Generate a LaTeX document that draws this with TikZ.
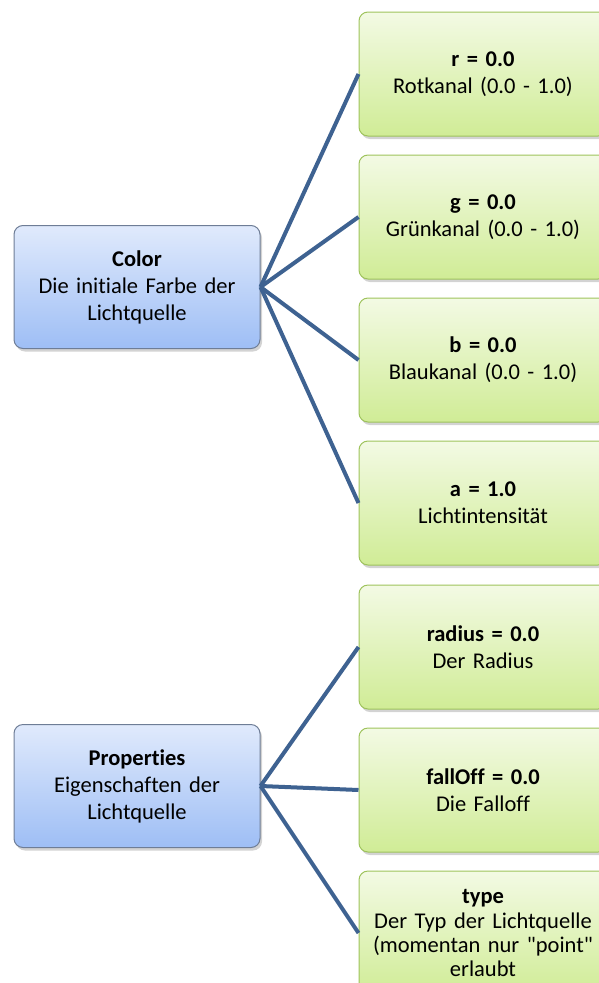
\documentclass[tikz,border=0pt]{standalone}
\usepackage{fontspec}
\setmainfont{Carlito}[Ligatures=NoCommon]
\usepackage{tikz}
\definecolor{linkblue}{RGB}{62,98,145}
\definecolor{parentedge}{RGB}{110,125,150}
\definecolor{parenttop}{RGB}{224,234,252}
\definecolor{parentbot}{RGB}{158,190,245}
\definecolor{childedge}{RGB}{158,195,92}
\definecolor{childtop}{RGB}{243,250,228}
\definecolor{childbot}{RGB}{208,236,150}
\usetikzlibrary{positioning, shadows}

\begin{document}
\begin{tikzpicture}[
    x=1pt, y=-1pt,
    node distance=18pt,
    parent/.style={rectangle, draw=parentedge, line width=1pt,
                   top color=parenttop, bottom color=parentbot,
                   minimum width=246pt, minimum height=123pt, text width=236pt,
                   align=center, rounded corners=9pt, inner sep=0pt,
                   font=\fontsize{22.5}{27}\selectfont,
                   drop shadow={shadow xshift=2pt, shadow yshift=-3pt, opacity=0.35}},
    child/.style={rectangle, draw=childedge, line width=1pt,
                  top color=childtop, bottom color=childbot,
                  minimum width=248pt, minimum height=124pt, text width=244pt,
                  align=center, rounded corners=9pt, inner sep=0pt,
                  font=\fontsize{22.5}{27}\selectfont,
                  drop shadow={shadow xshift=2pt, shadow yshift=-3pt, opacity=0.35}},
    link/.style={draw=linkblue, line width=4pt}
]
    \useasboundingbox (0,0) rectangle (599,983);

    % colour channels
    \node[child] (r) at (483,74) {\textbf{r = 0.0}\\Rotkanal (0.0 - 1.0)};
    \node[child, below=of r] (g) {\textbf{g = 0.0}\\Grünkanal (0.0 - 1.0)};
    \node[child, below=of g] (b) {\textbf{b = 0.0}\\Blaukanal (0.0 - 1.0)};
    \node[child, below=of b] (a) {\textbf{a = 1.0}\\Lichtintensität};

    % properties
    \node[child, below=19pt of a] (radius) {\textbf{radius = 0.0}\\Der Radius};
    \node[child, below=of radius] (falloff) {\textbf{fallOff = 0.0}\\Die Falloff};
    \node[child, below=of falloff] (type) {\textbf{type}\\[-2pt]Der Typ der Lichtquelle\\[-3pt](momentan nur \textquotedbl point\textquotedbl\\[-3pt]erlaubt\\[-4pt]};

    \node[parent] (color) at (137,287) {\textbf{Color}\\Die initiale Farbe der\\Lichtquelle};
    \node[parent] (props) at (137,786) {\textbf{Properties}\\Eigenschaften der\\Lichtquelle};

    \foreach \c in {r, g, b, a}
        \draw[link] (color.east) -- (\c.west);
    \foreach \c in {radius, falloff, type}
        \draw[link] (props.east) -- (\c.west);
\end{tikzpicture}
\end{document}
